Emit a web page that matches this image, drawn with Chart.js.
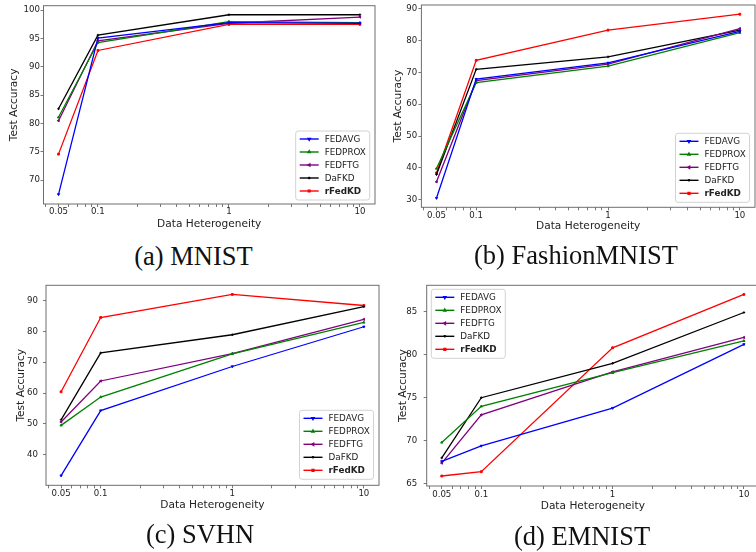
<!DOCTYPE html>
<html>
<head>
<meta charset="utf-8">
<script src="https://cdn.jsdelivr.net/npm/chart.js@4.4.1/dist/chart.umd.min.js"></script>
<style>
html,body{margin:0;padding:0;background:#fff;overflow:hidden;width:756px;height:552px;position:relative;}
.panel{position:absolute;}
.panel canvas{display:block;}
.cap{position:absolute;font-family:'Liberation Serif','Times New Roman',serif;font-size:26.5px;line-height:26px;color:#111;white-space:nowrap;transform:translateX(-50%);}
</style>
</head>
<body>
<div class="panel" style="left:0px;top:0px;"><canvas id="cA" width="380" height="240"></canvas></div>
<div class="panel" style="left:378px;top:0px;"><canvas id="cB" width="382" height="245"></canvas></div>
<div class="panel" style="left:0px;top:276px;"><canvas id="cC" width="384" height="250"></canvas></div>
<div class="panel" style="left:378px;top:276px;"><canvas id="cD" width="386" height="250"></canvas></div>
<div class="cap" style="left:193.5px;top:243px;">(a) MNIST</div>
<div class="cap" style="left:576px;top:241.5px;">(b) FashionMNIST</div>
<div class="cap" style="left:200px;top:521px;">(c) SVHN</div>
<div class="cap" style="left:582px;top:522.5px;">(d) EMNIST</div>
<script>
// ---------- data ----------
const xValues = [0.05, 0.1, 1, 10];
const xTickValues = [0.05, 0.1, 1, 10];
const xTickLabels = ['0.05', '0.1', '1', '10'];
const xMinorTicks = [0.04, 0.06, 0.07, 0.08, 0.09, 0.2, 0.3, 0.4, 0.5, 0.6, 0.7, 0.8, 0.9, 2, 3, 4, 5, 6, 7, 8, 9];
const seriesNames = ['FEDAVG', 'FEDPROX', 'FEDFTG', 'DaFKD', 'rFedKD'];
const boldSeries = 'rFedKD';
const xAxisTitle = 'Data Heterogeneity';
const yAxisTitle = 'Test Accuracy';

// (a) MNIST
const mnistFEDAVG  = [67.5, 95.1, 97.8, 97.7];
const mnistFEDPROX = [81.1, 94.3, 98.0, 97.8];
const mnistFEDFTG  = [80.5, 94.6, 97.7, 98.8];
const mnistDaFKD   = [82.6, 95.6, 99.2, 99.2];
const mnistRFedKD  = [74.6, 92.9, 97.5, 97.5];
const mnistYTicks  = [70, 75, 80, 85, 90, 95, 100];

// (b) FashionMNIST
const fashionFEDAVG  = [30.5, 67.9, 73.0, 82.9];
const fashionFEDPROX = [39.8, 66.8, 72.0, 82.5];
const fashionFEDFTG  = [35.6, 67.4, 72.6, 83.8];
const fashionDaFKD   = [37.9, 71.0, 74.9, 83.3];
const fashionRFedKD  = [38.4, 73.8, 83.3, 88.3];
const fashionYTicks  = [30, 40, 50, 60, 70, 80, 90];

// (c) SVHN
const svhnFEDAVG  = [33.2, 54.3, 68.6, 81.5];
const svhnFEDPROX = [49.5, 58.7, 72.7, 82.9];
const svhnFEDFTG  = [50.6, 63.9, 72.8, 83.9];
const svhnDaFKD   = [51.3, 73.0, 78.9, 88.0];
const svhnRFedKD  = [60.4, 84.5, 92.0, 88.4];
const svhnYTicks  = [40, 50, 60, 70, 80, 90];

// (d) EMNIST
const emnistFEDAVG  = [67.6, 69.4, 73.8, 81.2];
const emnistFEDPROX = [69.8, 74.0, 77.9, 81.6];
const emnistFEDFTG  = [67.4, 73.0, 78.0, 82.0];
const emnistDaFKD   = [68.0, 75.0, 79.0, 84.9];
const emnistRFedKD  = [65.9, 66.4, 80.8, 87.0];
const emnistYTicks  = [65, 70, 75, 80, 85];

// ---------- styles ----------
const seriesColors = ['#0000ff', '#008000', '#800080', '#000000', '#ff0000'];
const seriesMarkers = [
  {style: 'triangle', rot: 180},
  {style: 'triangle', rot: 0},
  {style: 'triangle', rot: 270},
  {style: 'cross', rot: 0},
  {style: 'rect', rot: 0}
];
const TEXT_COLOR = '#222222';
const TICK_FONT = {family: 'DejaVu Sans', size: 8.6, lineHeight: 1.2};
const TITLE_FONT = {family: 'DejaVu Sans', size: 10.6, lineHeight: 1.2};
const LEGEND_FONT_SIZE = 8.8;
const MARKER_R = 1.3;

const framePlugin = {
  id: 'frame',
  afterDatasetsDraw(chart) {
    const {ctx, chartArea: a} = chart;
    ctx.save();
    ctx.strokeStyle = '#6e6e6e';
    ctx.lineWidth = 1;
    ctx.strokeRect(a.left, a.top, a.right - a.left, a.bottom - a.top);
    ctx.restore();
  }
};

const innerLegendPlugin = {
  id: 'innerLegend',
  afterDraw(chart, args, opts) {
    const {ctx, chartArea: a} = chart;
    const W = 74, H = 69, rowH = 13;
    let x0, y0;
    if (opts.pos === 'br') {
      x0 = a.right - opts.dx - W;
      y0 = a.bottom - opts.dy - H;
    } else {
      x0 = a.left + opts.dx;
      y0 = a.top + opts.dy;
    }
    ctx.save();
    const r = 2.5;
    ctx.beginPath();
    ctx.moveTo(x0 + r, y0);
    ctx.lineTo(x0 + W - r, y0);
    ctx.quadraticCurveTo(x0 + W, y0, x0 + W, y0 + r);
    ctx.lineTo(x0 + W, y0 + H - r);
    ctx.quadraticCurveTo(x0 + W, y0 + H, x0 + W - r, y0 + H);
    ctx.lineTo(x0 + r, y0 + H);
    ctx.quadraticCurveTo(x0, y0 + H, x0, y0 + H - r);
    ctx.lineTo(x0, y0 + r);
    ctx.quadraticCurveTo(x0, y0, x0 + r, y0);
    ctx.closePath();
    ctx.fillStyle = 'rgba(255,255,255,0.85)';
    ctx.fill();
    ctx.strokeStyle = '#d2d2d2';
    ctx.lineWidth = 1;
    ctx.stroke();
    chart.data.datasets.forEach((ds, i) => {
      const cy = y0 + 8 + i * rowH;
      ctx.strokeStyle = ds.borderColor;
      ctx.fillStyle = ds.borderColor;
      ctx.lineWidth = 1.4;
      ctx.beginPath();
      ctx.moveTo(x0 + 4, cy);
      ctx.lineTo(x0 + 23, cy);
      ctx.stroke();
      Chart.helpers.drawPoint(ctx, {pointStyle: ds.pointStyle, rotation: ds.pointRotation, radius: MARKER_R, borderWidth: 1}, x0 + 13.5, cy);
      ctx.fillStyle = TEXT_COLOR;
      ctx.textBaseline = 'middle';
      ctx.textAlign = 'left';
      ctx.font = (ds.label === boldSeries ? 'bold ' : '') + LEGEND_FONT_SIZE + 'px "DejaVu Sans"';
      ctx.fillText(ds.label, x0 + 29, cy + 0.5);
    });
    ctx.restore();
  }
};

function zeroPad(s) { s.paddingTop = 0; s.paddingBottom = 0; s.paddingLeft = 0; s.paddingRight = 0; }

function buildChart(id, p) {
  const datasets = seriesNames.map((name, i) => ({
    label: name,
    data: xValues.map((x, j) => ({x: x, y: p.series[i][j]})),
    borderColor: seriesColors[i],
    backgroundColor: seriesColors[i],
    pointStyle: seriesMarkers[i].style,
    pointRotation: seriesMarkers[i].rot,
    pointRadius: MARKER_R,
    pointBorderWidth: 1,
    borderWidth: 1.3,
    tension: 0,
    fill: false
  }));
  return new Chart(document.getElementById(id), {
    type: 'line',
    data: {datasets: datasets},
    options: {
      responsive: false,
      animation: false,
      events: [],
      layout: {padding: {left: 0, top: p.padTop, right: p.padRight, bottom: 0}},
      plugins: {
        legend: {display: false},
        tooltip: {enabled: false},
        innerLegend: {pos: p.legendPos, dx: p.legDx, dy: p.legDy}
      },
      scales: {
        x: {
          type: 'logarithmic',
          bounds: 'data',
          min: 0.0384,
          max: 13.03,
          afterBuildTicks: s => {
            s.ticks = xTickValues.concat(xMinorTicks).sort((a, b) => a - b).map(v => ({value: v}));
          },
          afterFit: s => { s.height = p.xH; zeroPad(s); },
          ticks: {
            autoSkip: false,
            maxRotation: 0,
            minRotation: 0,
            padding: p.xPad,
            font: TICK_FONT,
            color: TEXT_COLOR,
            callback: (v) => {
              const k = xTickValues.indexOf(v);
              return k >= 0 ? xTickLabels[k] : '';
            }
          },
          grid: {drawOnChartArea: false, tickLength: 3, tickColor: '#555', tickWidth: 0.8},
          border: {display: false},
          title: {display: true, text: xAxisTitle, font: TITLE_FONT, color: TEXT_COLOR, padding: {top: 0, bottom: p.xTitlePb}}
        },
        y: {
          type: 'linear',
          bounds: 'data',
          min: p.yMin,
          max: p.yMax,
          afterBuildTicks: s => { s.ticks = p.yTicks.map(v => ({value: v})); },
          afterFit: s => { s.width = p.yW; zeroPad(s); },
          ticks: {
            padding: p.yPad,
            font: TICK_FONT,
            color: TEXT_COLOR,
            callback: v => String(v)
          },
          grid: {drawOnChartArea: false, tickLength: 3, tickColor: '#555', tickWidth: 0.8},
          border: {display: false},
          title: {display: true, text: yAxisTitle, font: TITLE_FONT, color: TEXT_COLOR, padding: {top: p.yTitlePt, bottom: 0}}
        }
      }
    },
    plugins: [framePlugin, innerLegendPlugin]
  });
}

buildChart('cA', {
  series: [mnistFEDAVG, mnistFEDPROX, mnistFEDFTG, mnistDaFKD, mnistRFedKD],
  yMin: 65.8, yMax: 100.8, yTicks: mnistYTicks,
  padTop: 5.7, padRight: 3, xH: 36, yW: 43.5,
  yPad: 0.5, xPad: 0, xTitlePb: 9.6, yTitlePt: 7.6,
  legendPos: 'br', legDx: 5.3, legDy: 4
});
buildChart('cB', {
  series: [fashionFEDAVG, fashionFEDPROX, fashionFEDFTG, fashionDaFKD, fashionRFedKD],
  yMin: 27.6, yMax: 91.2, yTicks: fashionYTicks,
  padTop: 4.3, padRight: 0, xH: 37.7, yW: 43.4,
  yPad: 1.1, xPad: 0, xTitlePb: 11.9, yTitlePt: 13.6,
  legendPos: 'br', legDx: 5.5, legDy: 5
});
buildChart('cC', {
  series: [svhnFEDAVG, svhnFEDPROX, svhnFEDFTG, svhnDaFKD, svhnRFedKD],
  yMin: 30.05, yMax: 94.95, yTicks: svhnYTicks,
  padTop: 9.3, padRight: 2, xH: 40.7, yW: 46,
  yPad: 5, xPad: 0, xTitlePb: 14.3, yTitlePt: 15.3,
  legendPos: 'br', legDx: 5.5, legDy: 6
});
buildChart('cD', {
  series: [emnistFEDAVG, emnistFEDPROX, emnistFEDFTG, emnistDaFKD, emnistRFedKD],
  yMin: 64.74, yMax: 88.06, yTicks: emnistYTicks,
  padTop: 9.3, padRight: 0, xH: 40, yW: 48.7,
  yPad: 6.4, xPad: 0.2, xTitlePb: 13.6, yTitlePt: 18.6,
  legendPos: 'tl', legDx: 4.6, legDy: 4
});
</script>
</body>
</html>
